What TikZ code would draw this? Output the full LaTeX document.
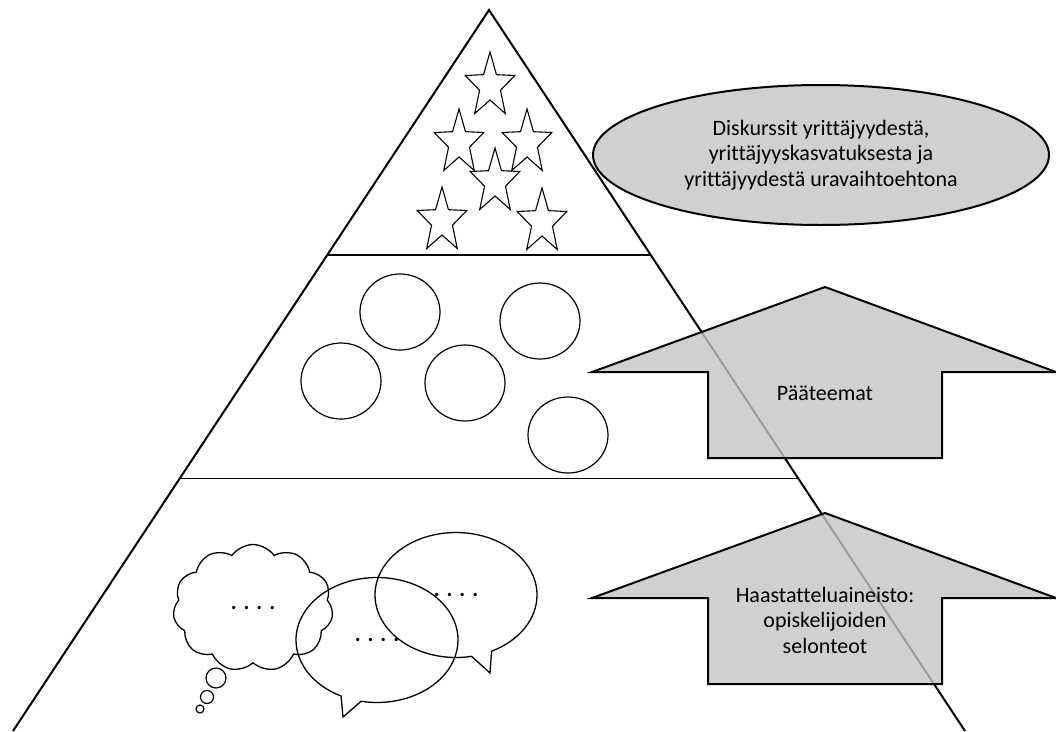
\documentclass[tikz,border=0pt]{standalone}
\usepackage{fontspec}
\setmainfont{Carlito}[Ligatures=NoCommon]
\usetikzlibrary{calc,shapes.geometric,shapes.symbols,shapes.callouts}
\definecolor{boxgrey}{RGB}{208,208,208}
\definecolor{arrowgrey}{RGB}{196,196,196}
\newcommand\dotrow{{\bfseries .\hspace{7pt}.\hspace{7pt}.\hspace{7pt}.}}

\begin{document}
\begin{tikzpicture}[x=1pt, y=-1pt,
	layer/.style={line width=1.4pt},
	theme/.style={ellipse, draw, line width=1.2pt, minimum width=80pt, minimum height=76pt},
	bubble/.style={ellipse callout, draw, line width=1.3pt, minimum width=162pt, minimum height=125pt, inner sep=0pt},
	greyfill/.style={fill=boxgrey, draw, line width=2pt},
	bodytext/.style={align=center, font=\fontsize{22}{25.5}\selectfont},
	starpic/.pic={\draw[line width=1.1pt] (-90:26 and 34)
		\foreach \k in {0,...,4}{ -- (-54+72*\k:11 and 14) -- (-18+72*\k:26 and 34)} -- cycle;},
	uparrow/.pic={\filldraw[greyfill, fill=arrowgrey, fill opacity=0.8]
		(0,0) -- (231,85) -- (117,85) -- (117,171) -- (-117,171) -- (-117,85) -- (-233,85) -- cycle;}]
	\useasboundingbox (0,0) rectangle (1056,731);
	\coordinate (apex) at (489,10);
	\coordinate (bl) at (13,731);
	\coordinate (br) at (965,731);
	\draw[line width=2pt] (bl) -- (apex) -- (br);
	\draw[layer] ($(apex)!0.34!(bl)$) -- ($(apex)!0.34!(br)$);
	\draw[layer] ($(apex)!0.65!(bl)$) -- ($(apex)!0.65!(br)$);

	\foreach \x/\y [count=\i] in {490/86, 459/143, 527/143, 495/182, 442/221, 542/222}
		\pic (s\i) at (\x,\y) {starpic};
	\foreach \x/\y [count=\i] in {400/312, 540/321, 341/381, 465/383, 568/435}
		\node[theme] (c\i) at (\x,\y) {};

	\node[ellipse, greyfill, minimum width=456pt, minimum height=140pt, bodytext] (discourse) at (821,155)
		{Diskurssit yrittäjyydestä,\\yrittäjyyskasvatuksesta ja\\yrittäjyydestä uravaihtoehtona};

	\pic at (825,287) {uparrow};
	\pic at (825,513) {uparrow};
	\node[bodytext] (themes) at (825,393) {Pääteemat};
	\node[bodytext] (data) at (825,620) {Haastatteluaineisto:\\opiskelijoiden\\selonteot};

	\node[cloud, draw, cloud puffs=11, cloud puff arc=110, aspect=1.3, minimum width=160pt, minimum height=127pt,
		line width=1.3pt, bodytext] (thought) at (253,608) {\dotrow};
	\foreach \x/\y/\r [count=\i] in {216/678/20, 207/697/13, 200/709/8}
		\node[circle, draw, line width=1.2pt, minimum size=\r pt, inner sep=0pt] (t\i) at (\x,\y) {};

	\coordinate (tipA) at (343,717);
	\coordinate (tipB) at (490,673);
	\node[bubble, callout absolute pointer={(tipA)}, bodytext] (speechA) at (377,640) {\dotrow};
	\node[bubble, callout absolute pointer={(tipB)}, bodytext] (speechB) at (456,595) {\dotrow};
\end{tikzpicture}
\end{document}
